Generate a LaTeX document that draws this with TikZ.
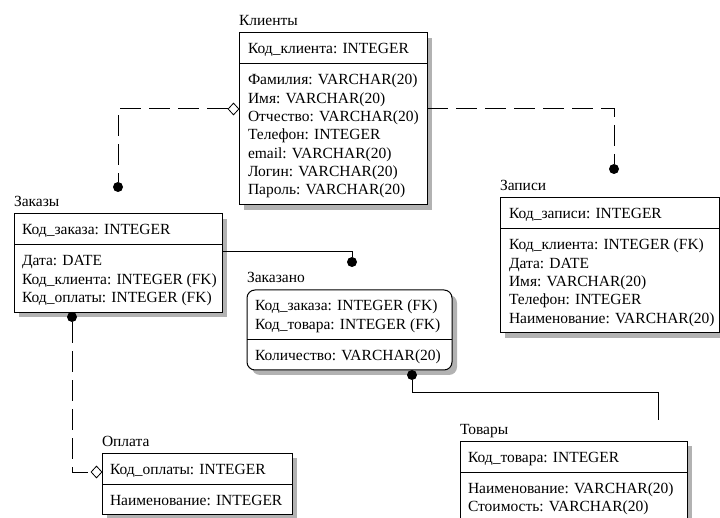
\documentclass[tikz,border=0pt]{standalone}
\usepackage{fontspec}
\setmainfont{Liberation Serif}
\usetikzlibrary{shapes.geometric}
\newcommand\ent[7][]{% opts, name, x, top, width, height, divider y
  \fill[shadebox,#1] (#3+5,#4+5) rectangle ++(#5,#6);
  \node[ebox,#1, minimum width=#5pt, minimum height=#6pt] (#2) at (#3,#4) {};
  \draw[line width=1pt] (#3,#7) -- (#3+#5,#7);
}
\newcommand\lines[4]{% name, x, first baseline, list
  \foreach \t [count=\i from 0] in {#4} \node[txt] (#1-\i) at (#2,#3+18.3*\i) {\t};
}
\begin{document}
\begin{tikzpicture}[x=1pt,y=-1pt,
  ebox/.style={draw=black, line width=1pt, fill=white, inner sep=0pt, outer sep=0pt, anchor=north west},
  shadebox/.style={fill=gray!60},
  txt/.style={anchor=base west, inner sep=0pt, outer sep=0pt, font=\fontsize{15.5}{18}\selectfont},
  dotm/.style={circle, fill=black, inner sep=0pt, minimum size=10pt},
  diam/.style={diamond, draw=black, fill=white, inner sep=0pt, minimum width=11pt, minimum height=12pt, line width=0.8pt},
  rel/.style={line width=1pt},
  nonid/.style={rel, dash pattern=on 21pt off 8pt},
]
\useasboundingbox (0,0) rectangle (720,518);

% Клиенты
\ent{kl}{239}{33}{188}{172}{64}
\node[txt] (kl-t) at (239,26) {Клиенты};
\lines{kl-k}{248}{54}{Код\_клиента: INTEGER}
\lines{kl-a}{248}{85}{Фамилия: VARCHAR(20),Имя: VARCHAR(20),Отчество: VARCHAR(20),Телефон: INTEGER,email: VARCHAR(20),Логин: VARCHAR(20),Пароль: VARCHAR(20)}

% Заказы
\ent{zk}{14}{214}{208}{98.5}{245}
\node[txt] (zk-t) at (14,207) {Заказы};
\lines{zk-k}{22}{235}{Код\_заказа: INTEGER}
\lines{zk-a}{22}{266}{Дата: DATE,Код\_клиента: INTEGER (FK),Код\_оплаты: INTEGER (FK)}

% Записи
\ent{zp}{500}{198}{219}{135}{229}
\node[txt] (zp-t) at (500,191) {Записи};
\lines{zp-k}{509}{219}{Код\_записи: INTEGER}
\lines{zp-a}{509}{250}{Код\_клиента: INTEGER (FK),Дата: DATE,Имя: VARCHAR(20),Телефон: INTEGER,Наименование: VARCHAR(20)}

% Заказано
\ent[rounded corners=8pt]{zo}{247}{290}{205}{80}{339.5}
\node[txt] (zo-t) at (247,283) {Заказано};
\lines{zo-k}{255}{311}{Код\_заказа: INTEGER (FK),Код\_товара: INTEGER (FK)}
\lines{zo-a}{255}{360.5}{Количество: VARCHAR(20)}

% Оплата
\ent{op}{102}{453}{190}{61}{484}
\node[txt] (op-t) at (102,446) {Оплата};
\lines{op-k}{110}{474}{Код\_оплаты: INTEGER}
\lines{op-a}{110}{505}{Наименование: INTEGER}

% Товары
\ent{tv}{460}{441}{227}{100}{472}
\node[txt] (tv-t) at (460,434) {Товары};
\lines{tv-k}{468}{462}{Код\_товара: INTEGER}
\lines{tv-a}{468}{493}{Наименование: VARCHAR(20),Стоимость: VARCHAR(20)}

% markers
\node[diam] (dk) at (233.5,109) {};
\node[dotm] (d1) at (118,187) {};
\node[dotm] (d2) at (614,169) {};
\node[dotm] (d3) at (352,262) {};
\node[dotm] (d4) at (72,317) {};
\node[diam] (dop) at (96.5,472) {};
\node[dotm] (d5) at (412,375) {};
\coordinate (tvend) at (658,420);

% connectors
\draw[nonid] (dk.west) -| (d1.north);
\draw[nonid] (kl.east |- 0,109) -| (d2.north);
\draw[rel] (zk.east |- 0,252) -| (d3.north);
\draw[nonid] (d4.south) |- (dop.west);
\draw[rel] (d5.south) -- ++(0,12) -| (tvend);
\end{tikzpicture}
\end{document}
